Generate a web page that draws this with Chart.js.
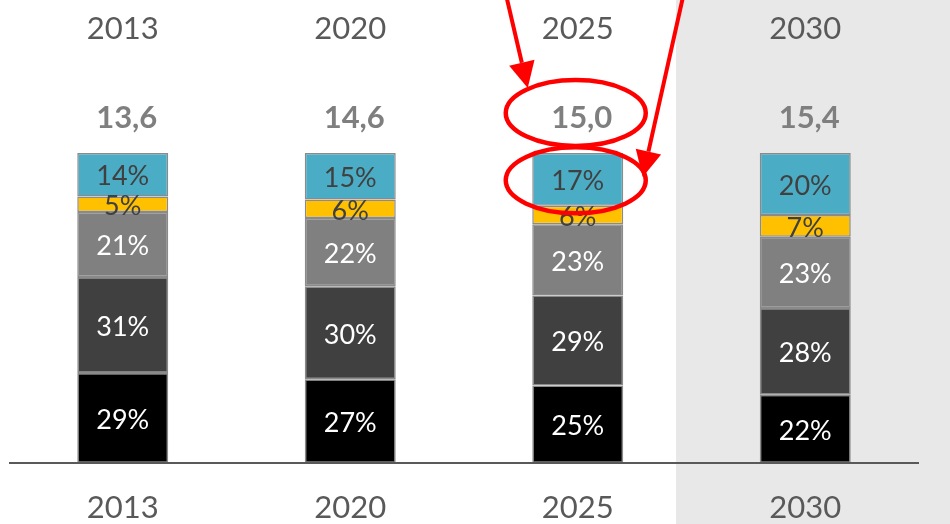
<!DOCTYPE html>
<html>
<head>
<meta charset="utf-8">
<script src="https://cdn.jsdelivr.net/npm/chart.js@4/dist/chart.umd.min.js"></script>
<style>
  html, body { margin: 0; padding: 0; background: #ffffff; }
  #wrap { width: 950px; height: 524px; position: relative; }
</style>
</head>
<body>
<div id="wrap"><canvas id="c" width="950" height="524"></canvas></div>
<script>
// Years and totals shown above each column
const years = ['2013', '2020', '2025', '2030'];
const totals = [13.6, 14.6, 15.0, 15.4];

// Shares per segment, bottom to top (percent)
const shareBlack    = [29, 27, 25, 22];
const shareDarkGray = [31, 30, 29, 28];
const shareGray     = [21, 22, 23, 23];
const shareYellow   = [5, 6, 6, 7];
const shareTeal     = [14, 15, 17, 20];

const FONT = 'Lato, "Open Sans", sans-serif';

const series = [
  { data: shareBlack,    bg: '#000000', txt: '#ffffff' },
  { data: shareDarkGray, bg: '#404040', txt: '#ffffff' },
  { data: shareGray,     bg: '#808080', txt: '#ffffff' },
  { data: shareYellow,   bg: '#FFC000', txt: '#404040' },
  { data: shareTeal,     bg: '#4BACC6', txt: '#404040' }
];

// Shaded backdrop behind the last column
const backdrop = {
  id: 'backdrop',
  beforeDraw(chart) {
    const { ctx, scales: { x } } = chart;
    const step = x.getPixelForValue(1) - x.getPixelForValue(0);
    const left = x.getPixelForValue(3) - step * 0.568;
    ctx.save();
    ctx.fillStyle = '#e8e8e8';
    ctx.fillRect(left, 0, chart.width - left, chart.height);
    ctx.restore();
  }
};

// Segment labels, header years, totals, baseline and highlight marks
const overlay = {
  id: 'overlay',
  afterDatasetsDraw(chart) {
    const { ctx, scales: { x, y }, chartArea } = chart;
    ctx.save();
    ctx.textAlign = 'center';
    ctx.textBaseline = 'middle';

    // percent labels inside each segment
    chart.data.datasets.forEach((ds, di) => {
      const meta = chart.getDatasetMeta(di);
      meta.data.forEach((bar, i) => {
        const v = ds.data[i];
        ctx.fillStyle = series[di].txt;
        ctx.font = '27px ' + FONT;
        const cy = (bar.y + bar.base) / 2 + 2;
        ctx.fillText(v + '%', bar.x, cy);
      });
    });

    // header years and totals
    years.forEach((yr, i) => {
      const cx = x.getPixelForValue(i);
      ctx.fillStyle = '#595959';
      ctx.font = '31px ' + FONT;
      ctx.fillText(yr, cx, 29);
      ctx.fillStyle = '#7f7f7f';
      ctx.font = 'bold 31px ' + FONT;
      ctx.fillText(totals[i].toFixed(1).replace('.', ','), cx + 4, 118);
    });

    // baseline
    ctx.strokeStyle = '#595959';
    ctx.lineWidth = 2;
    ctx.beginPath();
    ctx.moveTo(chartArea.left, y.getPixelForValue(0));
    ctx.lineTo(chartArea.right, y.getPixelForValue(0));
    ctx.stroke();

    // red highlight ellipses around the 2025 total and its top segment
    const hx = x.getPixelForValue(2);
    const topBar = chart.getDatasetMeta(4).data[2];
    const segCy = (topBar.y + topBar.base) / 2;
    ctx.strokeStyle = '#ff0000';
    ctx.lineWidth = 4.5;
    ctx.beginPath();
    ctx.ellipse(hx - 2, 113, 70, 33, 0, 0, Math.PI * 2);
    ctx.stroke();
    ctx.beginPath();
    ctx.ellipse(hx - 2, segCy + 1, 70, 33, 0, 0, Math.PI * 2);
    ctx.stroke();

    // arrows pointing at the two ellipses
    function arrow(x0, y0, x1, y1) {
      const ang = Math.atan2(y1 - y0, x1 - x0);
      const head = 26, half = 13;
      const bx = x1 - head * Math.cos(ang), by = y1 - head * Math.sin(ang);
      ctx.beginPath();
      ctx.moveTo(x0, y0);
      ctx.lineTo(bx, by);
      ctx.stroke();
      ctx.fillStyle = '#ff0000';
      ctx.beginPath();
      ctx.moveTo(x1, y1);
      ctx.lineTo(bx + half * Math.sin(ang), by - half * Math.cos(ang));
      ctx.lineTo(bx - half * Math.sin(ang), by + half * Math.cos(ang));
      ctx.closePath();
      ctx.fill();
    }
    ctx.lineWidth = 4;
    arrow(hx - 71, -2, hx - 50, 88);
    arrow(hx + 105, -2, hx + 65, 177);

    ctx.restore();
  }
};

new Chart(document.getElementById('c'), {
  type: 'bar',
  data: {
    labels: years,
    datasets: series.map(s => ({
      data: s.data,
      backgroundColor: s.bg,
      borderColor: '#8a8a8a',
      borderWidth: 1.5,
      borderSkipped: false,
      barPercentage: 0.4,
      categoryPercentage: 1.0
    }))
  },
  options: {
    responsive: false,
    animation: false,
    layout: { padding: { left: 9, right: 31, top: 153, bottom: 0 } },
    plugins: { legend: { display: false }, tooltip: { enabled: false } },
    scales: {
      x: {
        stacked: true,
        grid: { display: false, drawTicks: false },
        border: { display: false },
        ticks: { color: '#595959', font: { family: FONT, size: 31 }, padding: 26 },
        afterFit(scale) { scale.height = 61; }
      },
      y: {
        stacked: true,
        display: false,
        min: 0,
        max: 100
      }
    }
  },
  plugins: [backdrop, overlay]
});
</script>
</body>
</html>
